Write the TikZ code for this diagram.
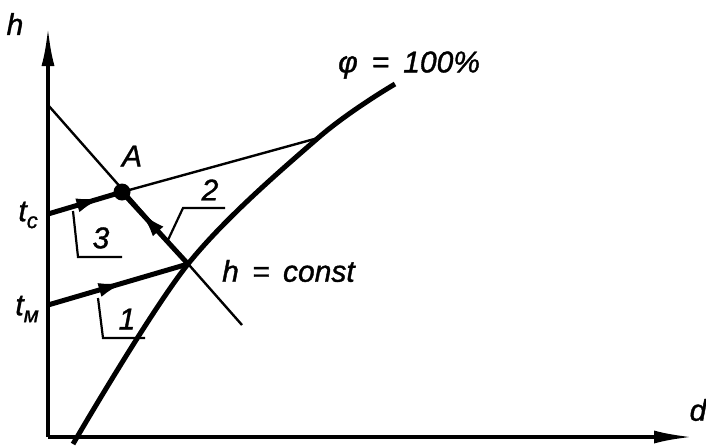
\documentclass[tikz,border=0pt]{standalone}
\usepackage{fontspec}
\setmainfont{Liberation Sans}[FakeBold=1.2]
\usetikzlibrary{arrows.meta,decorations.markings}
\tikzset{
  axis/.style={line width=3.4pt,-{Latex[length=38pt,width=13pt]}},
  thinln/.style={line width=2.4pt},
  thickln/.style={line width=5pt},
  midarrow/.style={postaction={decorate},decoration={markings,mark=at position #1 with {\arrow{Latex[length=28pt,width=14pt]}}}},
  lbl/.style={font=\fontsize{30}{30}\selectfont\itshape, inner sep=0pt},
  num/.style={font=\fontsize{30}{30}\selectfont\itshape, inner sep=0pt},
  leader/.style={line width=2.2pt},
}
\newcommand\subtxt[1]{\raisebox{-7pt}{\fontsize{22}{22}\selectfont\itshape #1}}
\begin{document}
\begin{tikzpicture}[x=1pt,y=-1pt]
\path[use as bounding box] (0,0) rectangle (706,445);
% axes
\coordinate (O) at (48,437);
\coordinate (Ytop) at (48,28);
\coordinate (Xend) at (692,437);
\draw[axis] (O) -- (Ytop);
\draw[axis] (O) -- (Xend);
\node[lbl] (hlab) at (15,24) {h};
\node[lbl] (dlab) at (698,410) {d};
% key points
\coordinate (tc) at (48,214);
\coordinate (tm) at (48,305);
\coordinate (A) at (122,192);
\coordinate (X) at (188,264);
\coordinate (P) at (318,138);
\coordinate (L1) at (48,105);
\coordinate (L2) at (242,325);
% saturation curve
\draw[thickln] plot[smooth, tension=0.55] coordinates {(73,444) (188,264) (318,138) (395,84)};
% h = const line
\draw[thinln] (L1) -- (L2);
% line through A to curve
\draw[thinln] (A) -- (P);
% processes
\draw[thickln, midarrow=0.76] (tc) -- (A);
\draw[thickln, midarrow=0.56] (tm) -- (X);
\draw[thickln, midarrow=0.74] (X) -- (A);
\node[circle, fill=black, minimum size=17pt, inner sep=0pt] (Adot) at (A) {};
% labels
\node[lbl] (Alab) at (132,156) {A};
\node[lbl, anchor=east] (tclab) at (38,215) {t\subtxt{с}};
\node[lbl, anchor=east] (tmlab) at (39,309) {t\subtxt{м}};
\node[lbl, anchor=west] (philab) at (338,65) {φ\hspace{14pt}=\hspace{14pt}100\%};
\node[lbl, anchor=west] (hconst) at (222,271) {h\hspace{5pt} =\hspace{5pt} const};
% leaders
\coordinate (l3a) at (73,211);
\coordinate (l3b) at (78,257);
\coordinate (l3c) at (122,257);
\draw[leader] (l3a) -- (l3b) -- (l3c);
\node[num] (n3) at (101,238) {3};
\coordinate (l1a) at (98,298);
\coordinate (l1b) at (103,338);
\coordinate (l1c) at (145,338);
\draw[leader] (l1a) -- (l1b) -- (l1c);
\node[num] (n1) at (127,319) {1};
\coordinate (l2a) at (168,240);
\coordinate (l2b) at (183,208);
\coordinate (l2c) at (225,208);
\draw[leader] (l2a) -- (l2b) -- (l2c);
\node[num] (n2) at (210,190) {2};
\end{tikzpicture}
\end{document}
